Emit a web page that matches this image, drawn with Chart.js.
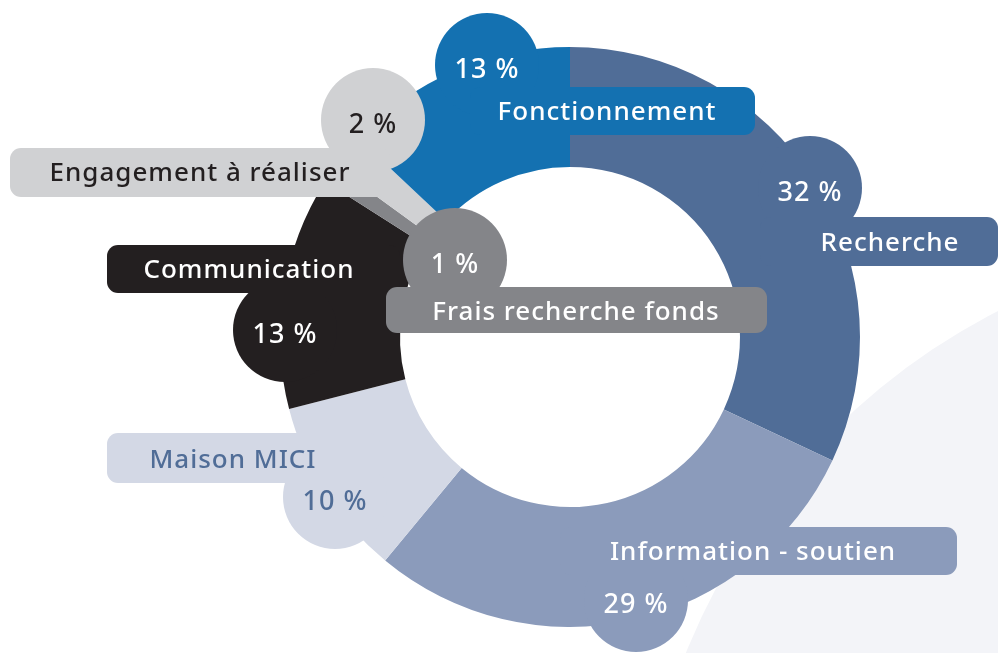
<!DOCTYPE html>
<html>
<head>
<meta charset="utf-8">
<script src="https://cdn.jsdelivr.net/npm/chart.js@4"></script>
<style>
  html, body { margin: 0; padding: 0; background: #fff; }
  #wrap { width: 998px; height: 653px; }
</style>
</head>
<body>
<div id="wrap"><canvas id="budget"></canvas></div>
<script>
// Données du graphique
const categories = ['Recherche', 'Information - soutien', 'Maison MICI', 'Communication', 'Frais recherche fonds', 'Engagement à réaliser', 'Fonctionnement'];
const percentages = [32, 29, 10, 13, 1, 2, 13];
const colors = ['#506d97', '#8b9bbb', '#d3d8e5', '#231f20', '#848589', '#d0d1d3', '#1471b1'];
const textColors = ['#ffffff', '#ffffff', '#506d97', '#ffffff', '#ffffff', '#231f20', '#ffffff'];

// Placement des étiquettes (bulle + pavé), relatif au centre de l'anneau
const labelLayout = [
  { bubble: [240, -149], box: [190, -120, 428, -71], text: [320, -93] },   // Recherche
  { bubble: [66, 263], box: [-10, 190, 387, 238], text: [183, 216] },       // Information
  { bubble: [-235, 160], box: [-463, 96, -190, 146], text: [-337, 124] },   // Maison MICI
  { bubble: [-285, -7], box: [-463, -92, -170, -44], text: [-321, -66] },   // Communication
  { bubble: [-115, -77], box: [-184, -50, 197, -4], text: [6, -24] },       // Frais
  { bubble: [-197, -217], box: [-560, -189, -180, -140], text: [-370, -163] }, // Engagement
  { bubble: [-83, -272], box: [-100, -250, 185, -202], text: [37, -224] }   // Fonctionnement
];
const drawOrder = [0, 1, 2, 3, 6, 5, 4];

function roundRect(ctx, x1, y1, x2, y2, r) {
  ctx.beginPath();
  ctx.roundRect(x1, y1, x2 - x1, y2 - y1, r);
  ctx.fill();
}

// Fond : grand disque clair en bas à droite
const fondPlugin = {
  id: 'fond',
  beforeDatasetsDraw(chart) {
    const arc = chart.getDatasetMeta(0).data[0];
    const ctx = chart.ctx;
    ctx.save();
    ctx.fillStyle = '#f3f4f8';
    ctx.beginPath();
    ctx.arc(arc.x + 730, arc.y + 563, 662, 0, Math.PI * 2);
    ctx.fill();
    ctx.restore();
  }
};

// Bulles et étiquettes
const etiquettesPlugin = {
  id: 'etiquettes',
  afterDatasetsDraw(chart) {
    const arcs = chart.getDatasetMeta(0).data;
    const cx = arcs[0].x, cy = arcs[0].y;
    const ctx = chart.ctx;
    ctx.save();
    ctx.textAlign = 'center';
    ctx.textBaseline = 'middle';
    drawOrder.forEach(i => {
      const l = labelLayout[i];
      ctx.fillStyle = colors[i];
      ctx.beginPath();
      ctx.arc(cx + l.bubble[0], cy + l.bubble[1], 52, 0, Math.PI * 2);
      ctx.fill();
      roundRect(ctx, cx + l.box[0], cy + l.box[1], cx + l.box[2], cy + l.box[3], 11);

      ctx.fillStyle = textColors[i];
      ctx.letterSpacing = '1px';
      ctx.font = '500 27px "Noto Sans"';
      ctx.fillText(percentages[i] + ' %', cx + l.bubble[0], cy + l.bubble[1] + 5);
      ctx.font = '500 26px "Noto Sans"';
      ctx.fillText(categories[i], cx + l.text[0], cy + l.text[1]);
    });
    ctx.restore();
  }
};

new Chart(document.getElementById('budget'), {
  type: 'doughnut',
  data: {
    labels: categories,
    datasets: [{
      data: percentages,
      backgroundColor: colors,
      borderWidth: 0
    }]
  },
  options: {
    responsive: true,
    maintainAspectRatio: false,
    animation: false,
    cutout: 170,
    layout: { padding: { left: 280, right: 138, top: 47, bottom: 26 } },
    plugins: {
      legend: { display: false },
      tooltip: { enabled: false }
    }
  },
  plugins: [fondPlugin, etiquettesPlugin]
});
</script>
</body>
</html>
